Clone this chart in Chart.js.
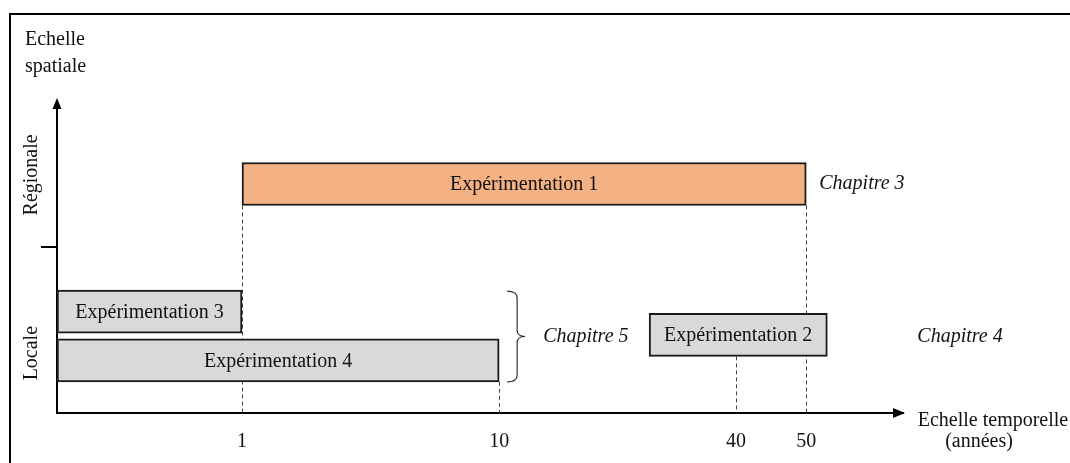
<!DOCTYPE html>
<html>
<head>
<meta charset="utf-8">
<script src="https://cdn.jsdelivr.net/npm/chart.js@4"></script>
<style>
  html, body { margin: 0; padding: 0; background: #fff; }
</style>
</head>
<body>
<canvas id="schema" width="1070" height="463"></canvas>
<script>
// donnees du schema
const experiences = ['Expérimentation 1', 'Expérimentation 2', 'Expérimentation 3', 'Expérimentation 4'];
const anneeDebut = [1, 29, 0, 0];
const anneeFin = [50, 53, 1, 10];
const niveauSpatial = [7.27, 2.48, 3.22, 1.67];

// axe temporel (non lineaire dans le schema)
const anneesTicks = [0, 1, 10, 40, 50];
const positionsTicks = [0, 1, 2.39, 3.67, 4.05];
const etiquettesTicks = ['', '1', '10', '40', '50'];

const echellesSpatiales = ['Régionale', 'Locale'];
const niveauxEchelles = [7.56, 1.9];
const limiteEchelles = 5.27;

const chapitres = ['Chapitre 3', 'Chapitre 5', 'Chapitre 4'];

const POLICE = "'Liberation Serif', 'Times New Roman', serif";

function versAxe(an) {
    let i = 0;
    while (i < anneesTicks.length - 2 && an > anneesTicks[i + 1]) i++;
    const a0 = anneesTicks[i], a1 = anneesTicks[i + 1];
    const p0 = positionsTicks[i], p1 = positionsTicks[i + 1];
    return p0 + (an - a0) * (p1 - p0) / (a1 - a0);
}

// lignes pointillees : depuis le bas de quelle barre
const guideDepuis = [null, 0, 3, 1, 0];

const decor = {
    id: 'decor',
    beforeDatasetsDraw(chart) {
        const ctx = chart.ctx;
        const area = chart.chartArea;
        const xs = chart.scales.x, ys = chart.scales.y;
        const barres = chart.getDatasetMeta(0).data;
        ctx.save();

        // cadre
        ctx.strokeStyle = '#000';
        ctx.lineWidth = 2;
        ctx.beginPath();
        ctx.moveTo(10, 463);
        ctx.lineTo(10, 14);
        ctx.lineTo(1070, 14);
        ctx.stroke();

        // pointilles
        ctx.lineWidth = 1;
        ctx.strokeStyle = '#444';
        ctx.setLineDash([4, 3]);
        for (let j = 1; j < anneesTicks.length; j++) {
            const b = barres[guideDepuis[j]];
            const px = Math.round(xs.getPixelForValue(positionsTicks[j])) + 0.5;
            ctx.beginPath();
            ctx.moveTo(px, b.y + b.height / 2);
            ctx.lineTo(px, area.bottom);
            ctx.stroke();
        }
        ctx.setLineDash([]);

        // axe vertical + fleche
        ctx.strokeStyle = '#000';
        ctx.fillStyle = '#000';
        ctx.lineWidth = 2;
        ctx.beginPath();
        ctx.moveTo(area.left, area.bottom + 1);
        ctx.lineTo(area.left, area.top + 8);
        ctx.stroke();
        ctx.beginPath();
        ctx.moveTo(area.left, area.top);
        ctx.lineTo(area.left - 4.5, area.top + 11);
        ctx.lineTo(area.left + 4.5, area.top + 11);
        ctx.closePath();
        ctx.fill();

        // separation regionale / locale
        const ly = ys.getPixelForValue(limiteEchelles);
        ctx.beginPath();
        ctx.moveTo(area.left - 16, ly);
        ctx.lineTo(area.left, ly);
        ctx.stroke();

        // fleche axe horizontal
        ctx.beginPath();
        ctx.moveTo(area.right + 2, area.bottom);
        ctx.lineTo(area.right - 10, area.bottom - 5);
        ctx.lineTo(area.right - 10, area.bottom + 5);
        ctx.closePath();
        ctx.fill();

        // textes des axes
        ctx.fillStyle = '#111';
        ctx.font = '20px ' + POLICE;
        ctx.textBaseline = 'middle';
        ctx.textAlign = 'left';
        ctx.fillText('Echelle', 25, 40);
        ctx.fillText('spatiale', 25, 67);
        ctx.textAlign = 'center';
        ctx.fillText('Echelle temporelle', 993, 421);
        ctx.fillText('(années)', 979, 442);

        echellesSpatiales.forEach((txt, i) => {
            ctx.save();
            ctx.translate(32, ys.getPixelForValue(niveauxEchelles[i]));
            ctx.rotate(-Math.PI / 2);
            ctx.fillText(txt, 0, 0);
            ctx.restore();
        });
        ctx.restore();
    },
    afterDatasetsDraw(chart) {
        const ctx = chart.ctx;
        const barres = chart.getDatasetMeta(0).data;
        ctx.save();
        ctx.fillStyle = '#111';
        ctx.font = '20px ' + POLICE;
        ctx.textAlign = 'center';
        ctx.textBaseline = 'middle';
        barres.forEach((b, i) => {
            ctx.fillText(experiences[i], (b.x + b.base) / 2, b.y + 1);
        });

        // accolade des experimentations 3 et 4
        const e3 = barres[2], e4 = barres[3];
        const haut = e3.y - e3.height / 2 + 1;
        const bas = e4.y + e4.height / 2;
        const mil = (haut + bas) / 2;
        const x0 = e4.x + 8, xs = x0 + 10, xp = xs + 8;
        ctx.strokeStyle = '#333';
        ctx.lineWidth = 1.2;
        ctx.beginPath();
        ctx.moveTo(x0, haut);
        ctx.quadraticCurveTo(xs, haut, xs, haut + 7);
        ctx.lineTo(xs, mil - 6);
        ctx.quadraticCurveTo(xs, mil, xp, mil);
        ctx.quadraticCurveTo(xs, mil, xs, mil + 6);
        ctx.lineTo(xs, bas - 7);
        ctx.quadraticCurveTo(xs, bas, x0, bas);
        ctx.stroke();

        // chapitres
        ctx.font = 'italic 20px ' + POLICE;
        ctx.textAlign = 'left';
        const e1 = barres[0], e2 = barres[1];
        ctx.fillText(chapitres[0], e1.x + 13, e1.y);
        ctx.fillText(chapitres[1], xp + 18, mil);
        ctx.fillText(chapitres[2], e2.x + 90, mil);
        ctx.restore();
    }
};

new Chart(document.getElementById('schema'), {
    type: 'bar',
    data: {
        labels: experiences,
        datasets: [{
            data: experiences.map((e, i) => ({
                x: [versAxe(anneeDebut[i]), versAxe(anneeFin[i])],
                y: niveauSpatial[i]
            })),
            backgroundColor: ['#F4B183', '#D9D9D9', '#D9D9D9', '#D9D9D9'],
            borderColor: '#1a1a1a',
            borderWidth: 2,
            borderSkipped: false,
            barThickness: 43
        }]
    },
    options: {
        indexAxis: 'y',
        responsive: false,
        animation: false,
        layout: {
            padding: { left: 57, right: 167, top: 98, bottom: 0 }
        },
        plugins: {
            legend: { display: false },
            tooltip: { enabled: false }
        },
        scales: {
            x: {
                type: 'linear',
                min: 0,
                max: 4.573,
                grid: { display: false, drawTicks: false, tickLength: 0 },
                border: { display: true, color: '#000', width: 2 },
                afterBuildTicks: (s) => {
                    s.ticks = positionsTicks.slice(1).map(v => ({ value: v }));
                },
                afterFit: (s) => { s.height = 50; },
                ticks: {
                    autoSkip: false,
                    maxRotation: 0,
                    padding: 17,
                    color: '#111',
                    font: { family: POLICE, size: 20 },
                    callback: (v) => etiquettesTicks[positionsTicks.indexOf(v)]
                }
            },
            y: {
                type: 'linear',
                min: 0,
                max: 10,
                offset: false,
                display: false
            }
        }
    },
    plugins: [decor]
});
</script>
</body>
</html>
